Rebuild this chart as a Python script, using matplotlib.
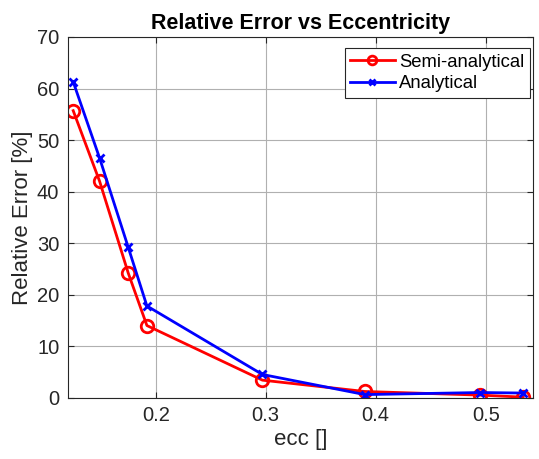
import matplotlib
matplotlib.use('Agg')
import matplotlib.pyplot as plt

plt.rcParams['font.family'] = ['Liberation Sans', 'DejaVu Sans']

ecc = [0.125, 0.149, 0.175, 0.192, 0.297, 0.39, 0.495, 0.534]
semi_analytical = [55.7, 42.0, 24.2, 14.0, 3.4, 1.2, 0.5, 0.1]
analytical = [61.3, 46.5, 29.2, 17.8, 4.5, 0.6, 1.0, 0.9]


def main():
    fig = plt.figure(figsize=(5.39, 4.59), dpi=100)
    ax = fig.add_axes([0.1256, 0.1336, 0.8634, 0.7858])

    ax.plot(ecc, semi_analytical, color='red', marker='o', markersize=9,
            markerfacecolor='none', markeredgewidth=2, linewidth=2,
            label='Semi-analytical')
    ax.plot(ecc, analytical, color='blue', marker='x', markersize=6,
            markeredgewidth=2, linewidth=2, label='Analytical')

    ax.set_xlim(0.12, 0.543)
    ax.set_ylim(0, 70)
    ax.set_xticks([0.2, 0.3, 0.4, 0.5])
    ax.set_xticklabels(['0.2', '0.3', '0.4', '0.5'])
    ax.set_yticks(range(0, 71, 10))

    ax.grid(True, color='#b0b0b0', linewidth=0.8)
    ax.tick_params(direction='in', top=True, right=True, labelsize=14.5,
                   colors='#262626', length=4, pad=6)
    for s in ax.spines.values():
        s.set_color('#262626')
        s.set_linewidth(0.8)

    ax.set_xlabel('ecc []', fontsize=16, color='#262626', labelpad=3)
    ax.set_ylabel('Relative Error [%]', fontsize=16, color='#262626',
                  labelpad=3)
    ax.set_title('Relative Error vs Eccentricity', fontsize=15.5,
                 fontweight='bold', pad=6)

    leg = ax.legend(loc='upper right', bbox_to_anchor=(0.9933, 0.9695),
                    fontsize=13.3, fancybox=False, edgecolor='#262626',
                    framealpha=1, borderpad=0.3, handlelength=2.4,
                    labelspacing=0.25, handletextpad=0.25, borderaxespad=0,
                    markerscale=0.7)
    leg.get_frame().set_linewidth(0.8)

    fig.savefig('out.png', dpi=100)


if __name__ == '__main__':
    main()
